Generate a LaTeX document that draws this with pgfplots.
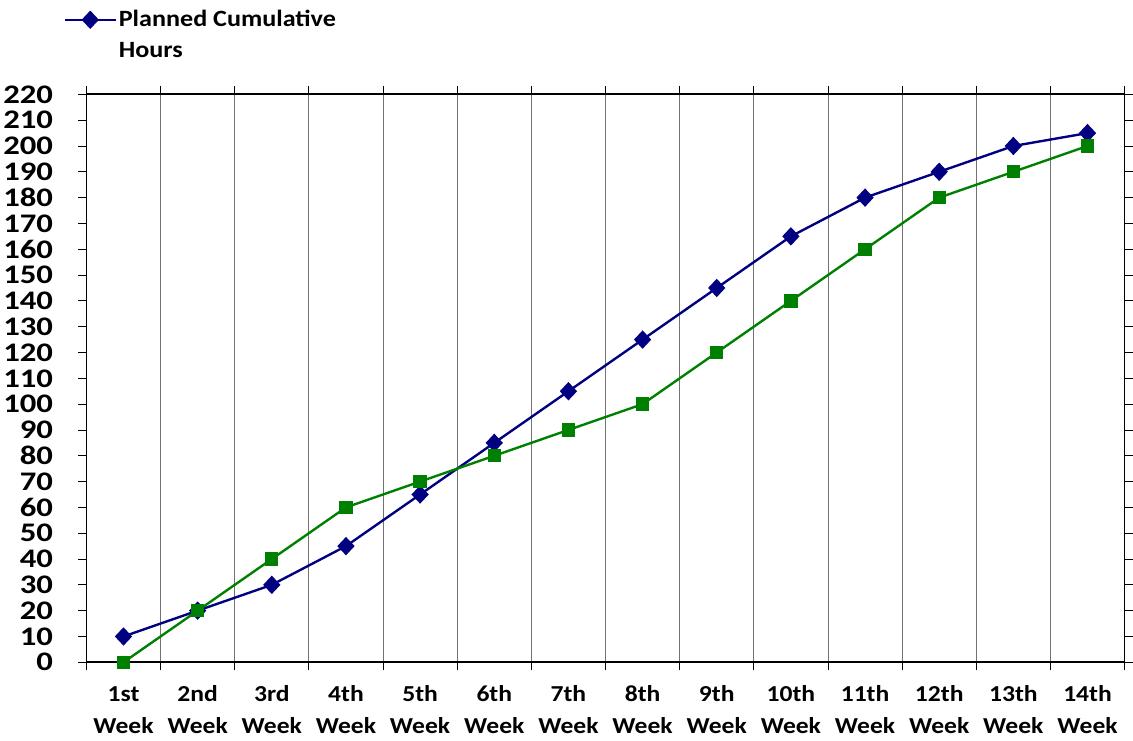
\documentclass[border=0pt]{standalone}
\usepackage{fontspec}
\setmainfont{Carlito}[FakeStretch=1.12]
\newfontfamily\yfont{Carlito}[FakeStretch=1.22]
\usepackage{pgfplots}
\pgfplotsset{compat=1.18}
\definecolor{navyb}{RGB}{0,0,128}
\definecolor{greenb}{RGB}{0,128,0}
\newcommand\wk[1]{\strut #1\\Week\rule[-3bp]{0pt}{3bp}}
\begin{document}
\begin{tikzpicture}
\begin{axis}[
  scale only axis, width=1042bp, height=570bp,
  xmin=0.5, xmax=14.5, ymin=0, ymax=220,
  xtick={1,...,14},
  xticklabels={{\wk{1st}},{\wk{2nd}},{\wk{3rd}},{\wk{4th}},{\wk{5th}},{\wk{6th}},{\wk{7th}},{\wk{8th}},{\wk{9th}},{\wk{10th}},{\wk{11th}},{\wk{12th}},{\wk{13th}},{\wk{14th}}},
  x tick label style={align=center, font=\bfseries\fontsize{23}{32}\selectfont, yshift=-6bp},
  major x tick style={draw=none},
  minor xtick={0.5,1.5,...,14.5},
  xminorgrids, minor x grid style={black!55, line width=0.9pt},
  minor tick length=8bp,
  ytick={0,10,...,220},
  y tick label style={font=\yfont\bfseries\fontsize{27}{27}\selectfont, xshift=-22bp},
  /pgf/number format/assume math mode=true,
  tick align=outside, major tick length=8bp,
  every tick/.style={black, line width=0.9pt},
  axis line style={line width=1.8pt},
  legend style={at={(axis description cs:-0.025,1.04)}, anchor=south west, draw=none, fill=none,
    font=\bfseries\fontsize{23.5}{32}\selectfont, nodes={text depth=, text height=}},
  legend cell align=left,
  legend image code/.code={\draw[yshift=16bp,mark repeat=2,mark phase=2] plot coordinates {(0cm,0cm) (0.9cm,0cm) (1.8cm,0cm)};},
]
\addplot[navyb, line width=2.4pt, mark=diamond*, mark size=7.5bp, mark options={xscale=1.25, solid, fill=navyb}]
 coordinates {(1,10) (2,20) (3,30) (4,45) (5,65) (6,85) (7,105) (8,125) (9,145) (10,165) (11,180) (12,190) (13,200) (14,205)};
\addlegendentry{\begin{tabular}[t]{@{}l@{}}Planned Cumulative\\Hours\end{tabular}}
\addplot[greenb, line width=2.4pt, mark=square*, mark size=5.5bp, mark options={solid, fill=greenb}, forget plot]
 coordinates {(1,0) (2,20) (3,40) (4,60) (5,70) (6,80) (7,90) (8,100) (9,120) (10,140) (11,160) (12,180) (13,190) (14,200)};
\end{axis}
\end{tikzpicture}
\end{document}
